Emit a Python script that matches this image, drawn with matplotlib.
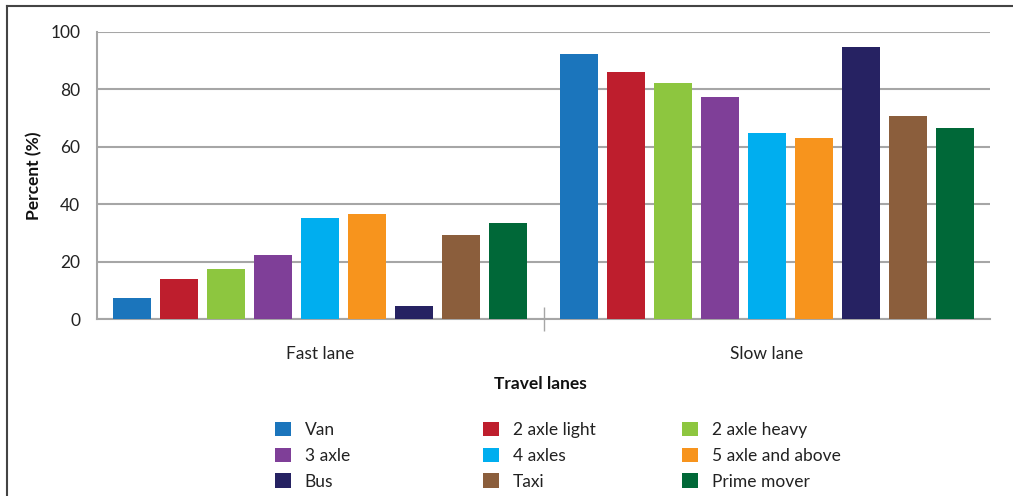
import matplotlib
matplotlib.use('Agg')
import matplotlib.pyplot as plt
import numpy as np
from matplotlib.lines import Line2D
from matplotlib.patches import Patch

plt.rcParams['font.family'] = ['Lato', 'DejaVu Sans']

lanes = ['Fast lane', 'Slow lane']
vehicles = ['Van', '2 axle light', '2 axle heavy', '3 axle', '4 axles',
            '5 axle and above', 'Bus', 'Taxi', 'Prime mover']
fast = [7.3, 14.0, 17.6, 22.5, 35.1, 36.8, 4.6, 29.3, 33.6]
slow = [92.2, 86.1, 82.4, 77.4, 65.0, 63.1, 94.9, 70.7, 66.7]
colors = ['#1b75bc', '#be1e2d', '#8dc63f', '#7f3f98', '#00aeef',
          '#f7941d', '#262262', '#8b5e3c', '#006838']

W, H = 1013, 496
fig = plt.figure(figsize=(W/100, H/100), dpi=100)
ax = fig.add_axes([97/W, 1-319.3/H, (990-97)/W, (319.3-32)/H])

pitch = 47/446.5
barw = 37.6/446.5
x = np.arange(len(lanes))
for i, name in enumerate(vehicles):
    off = (i - (len(vehicles)-1)/2)*pitch
    ax.bar(x + off, [fast[i], slow[i]], width=barw, color=colors[i],
           label=name, zorder=3)

ax.set_xlim(-0.5, 1.5)
ax.set_ylim(0, 100)
ax.set_yticks([0, 20, 40, 60, 80, 100])
ax.yaxis.grid(True, color='#a6a6a6', lw=1.5, zorder=0)
ax.tick_params(axis='y', length=0, labelsize=12.5, pad=12, colors='#222222')
ax.set_xticks([0.5])
ax.set_xticklabels([''])
ax.tick_params(axis='x', direction='inout', length=17, color='#a6a6a6', width=1)
for s in ['top', 'right']:
    ax.spines[s].set_visible(False)
for s in ['left', 'bottom']:
    ax.spines[s].set_color('#a6a6a6')
    ax.spines[s].set_linewidth(1.5)

for xi, lab in zip(x, lanes):
    ax.text(xi, -12, lab, ha='center', va='center', fontsize=12.5,
            color='#222222', transform=ax.transData)
fig.text(540/W, 1-384/H, 'Travel lanes', ha='center', va='center',
         fontsize=12.5, fontweight='bold', color='#111111')
ax.set_ylabel('Percent (%)', fontsize=12.5, fontweight='bold', labelpad=6,
              color='#111111')

# legend in three columns
col_x = [275, 483, 682]
for c in range(3):
    idx = [c, c+3, c+6]
    handles = [Patch(facecolor=colors[k], edgecolor='none') for k in idx]
    leg = fig.legend(handles, [vehicles[k] for k in idx],
                     loc='upper left', bbox_to_anchor=(col_x[c]/W, 1-422/H),
                     frameon=False, fontsize=12.5, handlelength=0.9,
                     handleheight=0.9, handletextpad=0.8, labelspacing=0.55,
                     borderpad=0, borderaxespad=0)
    for t in leg.get_texts():
        t.set_color('#222222')

# page frame
fig.add_artist(Line2D([7/W, 7/W], [0, 1-6/H], transform=fig.transFigure,
                      color='#444444', lw=1.5))
fig.add_artist(Line2D([7/W, 1], [1-6/H, 1-6/H], transform=fig.transFigure,
                      color='#444444', lw=1.5))

fig.savefig('out.png', dpi=100)
